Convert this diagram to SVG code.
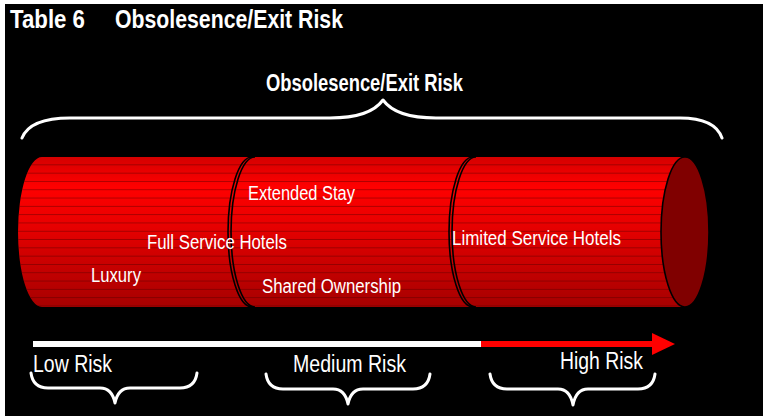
<svg xmlns="http://www.w3.org/2000/svg" width="763" height="416" viewBox="0 0 763 416">
<defs>
<linearGradient id="cyl" gradientUnits="userSpaceOnUse" x1="0" y1="157" x2="0" y2="307">
<stop offset="0" stop-color="#d40000"/>
<stop offset="0.2" stop-color="#ff0000"/>
<stop offset="0.45" stop-color="#e80000"/>
<stop offset="1" stop-color="#a60000"/>
</linearGradient>
<pattern id="stripes" patternUnits="userSpaceOnUse" x="0" y="157" width="10" height="8.3">
<rect x="0" y="7.6" width="10" height="0.7" fill="#500000" fill-opacity="0.6"/>
</pattern>
</defs>
<style>
.lbl{font-family:"Liberation Sans",Arial,sans-serif;fill:#fff;font-size:20px}
.bold{font-family:"Liberation Sans",Arial,sans-serif;fill:#fff;font-weight:bold}
.risk{font-family:"Liberation Sans",Arial,sans-serif;fill:#fff;font-size:23px}
.brace{fill:none;stroke:#fff;stroke-width:3;stroke-linecap:round;stroke-linejoin:round}
.edge{fill:none;stroke:#000;stroke-width:1.6}
</style>
<rect x="0" y="0" width="763" height="416" fill="#fff"/>
<rect x="5" y="4" width="758" height="412" fill="#000"/>

<g id="title">
<text class="bold" x="10" y="28" font-size="26" textLength="75" lengthAdjust="spacingAndGlyphs">Table 6</text>
<text class="bold" x="115" y="28" font-size="26" textLength="228" lengthAdjust="spacingAndGlyphs">Obsolesence/Exit Risk</text>
</g>

<g id="heading">
<text class="bold" x="266" y="91" font-size="23" textLength="197" lengthAdjust="spacingAndGlyphs">Obsolesence/Exit Risk</text>
<path class="brace" d="M22,138 Q30,118 70,118 L330,118 Q370,118 383,100 Q396,118 436,118 L680,118 Q715,118 722,138"/>
</g>

<g id="seg1">
<path d="M42,157 L256,157 L256,307 L42,307 A24,75 0 0 1 42,157 Z" fill="url(#cyl)"/>
<path d="M42,157 L256,157 L256,307 L42,307 A24,75 0 0 1 42,157 Z" fill="url(#stripes)"/>
</g>
<g id="seg2">
<path d="M255,157 L477,157 L477,307 L255,307 A24,75 0 0 1 255,157 Z" fill="url(#cyl)"/>
<path d="M255,157 L477,157 L477,307 L255,307 A24,75 0 0 1 255,157 Z" fill="url(#stripes)"/>
<path class="edge" d="M252,307 A24,75 0 0 1 252,157"/>
<path class="edge" d="M255,307 A24,75 0 0 1 255,157"/>
</g>
<g id="seg3">
<path d="M476,157 L685,157 L685,307 L476,307 A24,75 0 0 1 476,157 Z" fill="url(#cyl)"/>
<path d="M476,157 L685,157 L685,307 L476,307 A24,75 0 0 1 476,157 Z" fill="url(#stripes)"/>
<path class="edge" d="M473,307 A24,75 0 0 1 473,157"/>
<path class="edge" d="M476,307 A24,75 0 0 1 476,157"/>
<ellipse cx="685" cy="232" rx="24" ry="75" fill="#800000" stroke="#000" stroke-width="1.6"/>
</g>

<g id="labels">
<text class="lbl" x="248" y="200" textLength="107" lengthAdjust="spacingAndGlyphs">Extended Stay</text>
<text class="lbl" x="147" y="249" textLength="140" lengthAdjust="spacingAndGlyphs">Full Service Hotels</text>
<text class="lbl" x="91" y="282" textLength="50" lengthAdjust="spacingAndGlyphs">Luxury</text>
<text class="lbl" x="262" y="293" textLength="139" lengthAdjust="spacingAndGlyphs">Shared Ownership</text>
<text class="lbl" x="452" y="245" textLength="169" lengthAdjust="spacingAndGlyphs">Limited Service Hotels</text>
</g>

<g id="connectors">
<rect x="33" y="341" width="449" height="6" fill="#fff"/>
<rect x="481" y="341" width="174" height="6" fill="#ff0000"/>
<polygon points="652,333 675,344 652,355" fill="#ff0000"/>
</g>

<g id="risk-low">
<text class="risk" x="33" y="372" textLength="79" lengthAdjust="spacingAndGlyphs">Low Risk</text>
<path class="brace" d="M31,373 Q33,388 48,388 L100,388 Q112,388 115,403 Q118,388 130,388 L180,388 Q195,388 197,373"/>
</g>
<g id="risk-medium">
<text class="risk" x="293" y="372" textLength="113" lengthAdjust="spacingAndGlyphs">Medium Risk</text>
<path class="brace" d="M266,374 Q268,389 283,389 L333,389 Q345,389 348,404 Q351,389 363,389 L413,389 Q428,389 430,374"/>
</g>
<g id="risk-high">
<text class="risk" x="560" y="369" textLength="83" lengthAdjust="spacingAndGlyphs">High Risk</text>
<path class="brace" d="M490,374 Q492,389 507,389 L558,389 Q570,389 573,405 Q576,389 588,389 L638,389 Q653,389 655,374"/>
</g>
</svg>
